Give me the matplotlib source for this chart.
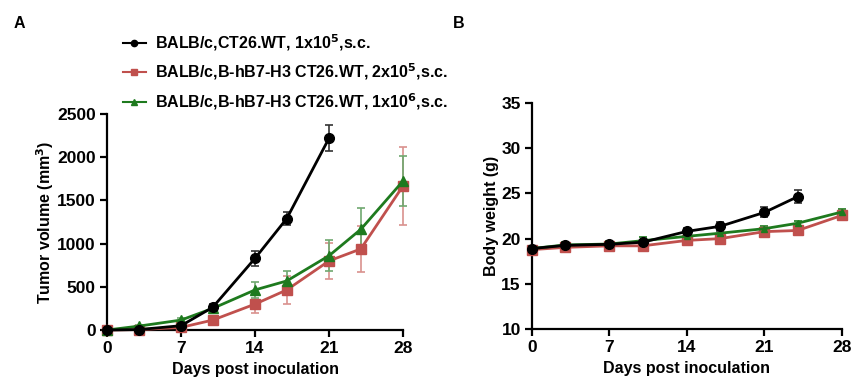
import matplotlib
matplotlib.use("Agg")
import matplotlib.pyplot as plt
from matplotlib.lines import Line2D

plt.rcParams['font.family'] = ['Liberation Sans', 'DejaVu Sans']
plt.rcParams['font.weight'] = 'bold'
plt.rcParams['mathtext.default'] = 'bf'

days = [0, 3, 7, 10, 14, 17, 21, 24, 28]
days_wt = [0, 3, 7, 10, 14, 17, 21]
days_wt_bw = [0, 3, 7, 10, 14, 17, 21, 24]

labels = ["BALB/c,CT26.WT, 1x10$^{5}$,s.c.",
          "BALB/c,B-hB7-H3 CT26.WT, 2x10$^{5}$,s.c.",
          "BALB/c,B-hB7-H3 CT26.WT, 1x10$^{6}$,s.c."]

# Tumor volume (mm3)
tv_black = [0, 5, 50, 263, 830, 1290, 2220]
tv_black_err = [0, 3, 10, 40, 85, 75, 150]
tv_red = [0, 5, 30, 115, 300, 464, 800, 938, 1668]
tv_red_err = [0, 3, 10, 20, 100, 160, 210, 270, 455]
tv_green = [0, 45, 115, 250, 464, 568, 860, 1165, 1725]
tv_green_err = [0, 8, 20, 40, 90, 120, 180, 245, 290]

# Body weight (g)
bw_black = [18.9, 19.25, 19.37, 19.6, 20.8, 21.36, 22.9, 24.64]
bw_black_err = [0.3, 0.3, 0.3, 0.3, 0.4, 0.5, 0.55, 0.75]
bw_red = [18.78, 19.03, 19.2, 19.2, 19.8, 20.0, 20.77, 20.9, 22.57]
bw_red_err = [0.25, 0.25, 0.25, 0.25, 0.3, 0.3, 0.3, 0.35, 0.35]
bw_green = [18.9, 19.3, 19.4, 19.77, 20.25, 20.6, 21.1, 21.7, 22.95]
bw_green_err = [0.3, 0.35, 0.35, 0.45, 0.3, 0.3, 0.3, 0.3, 0.35]

c_black = '#000000'
c_red = '#C0504D'
c_green = '#1E7A1E'

fig = plt.figure(figsize=(8.65, 3.9), dpi=100)
ax1 = fig.add_axes([0.1237, 0.1538, 0.3423, 0.554])
ax2 = fig.add_axes([0.615, 0.1564, 0.3584, 0.5795])

def style(ax):
    for s in ['top', 'right']:
        ax.spines[s].set_visible(False)
    for s in ['left', 'bottom']:
        ax.spines[s].set_linewidth(1.6)
    ax.tick_params(direction='out', length=5, width=1.6, labelsize=12.5, pad=3)
    for lab in ax.get_xticklabels() + ax.get_yticklabels():
        lab.set_fontweight('bold')

def series(ax, x, y, e, color, marker, ms, ecolor, z=3):
    ax.errorbar(x, y, yerr=e, color=color, marker=marker, ms=ms, lw=2,
                ecolor=ecolor, elinewidth=1.2, capsize=3, capthick=1.2,
                clip_on=False, zorder=z)

series(ax1, days, tv_red, tv_red_err, c_red, 's', 6.5, '#D9918E')
series(ax1, days, tv_green, tv_green_err, c_green, '^', 6.5, '#6FA86F')
series(ax1, days_wt, tv_black, tv_black_err, c_black, 'o', 7, '#333333', 4)
ax1.set_xlim(0, 28)
ax1.set_ylim(0, 2500)
ax1.set_xticks([0, 7, 14, 21, 28])
ax1.set_yticks([0, 500, 1000, 1500, 2000, 2500])
ax1.set_xlabel('Days post inoculation', fontsize=11.5, fontweight='bold', labelpad=4)
ax1.set_ylabel('Tumor volume (mm$^{3}$)', fontsize=11.5, fontweight='bold', labelpad=1)
style(ax1)

series(ax2, days, bw_red, bw_red_err, c_red, 's', 6.5, '#C0504D')
series(ax2, days, bw_green, bw_green_err, c_green, '^', 5, c_green)
series(ax2, days_wt_bw, bw_black, bw_black_err, c_black, 'o', 7, '#333333', 4)
ax2.set_xlim(0, 28)
ax2.set_ylim(10, 35)
ax2.set_xticks([0, 7, 14, 21, 28])
ax2.set_yticks([10, 15, 20, 25, 30, 35])
ax2.set_xlabel('Days post inoculation', fontsize=11.5, fontweight='bold', labelpad=4)
ax2.set_ylabel('Body weight (g)', fontsize=11.5, fontweight='bold', labelpad=2)
style(ax2)

handles = [Line2D([], [], color=c_black, marker='o', ms=4.5, lw=1.5),
           Line2D([], [], color=c_red, marker='s', ms=4.5, lw=1.5),
           Line2D([], [], color=c_green, marker='^', ms=4.5, lw=1.5)]
fig.legend(handles, labels, loc='upper left', bbox_to_anchor=(0.125, 0.955),
           frameon=False, handlelength=1.5, handletextpad=0.55,
           labelspacing=0.55, prop={'weight': 'bold', 'size': 11.5})

fig.text(0.016, 0.96, 'A', fontsize=11.5, fontweight='bold', va='top')
fig.text(0.523, 0.96, 'B', fontsize=11.5, fontweight='bold', va='top')

fig.savefig('out.png', dpi=100)
